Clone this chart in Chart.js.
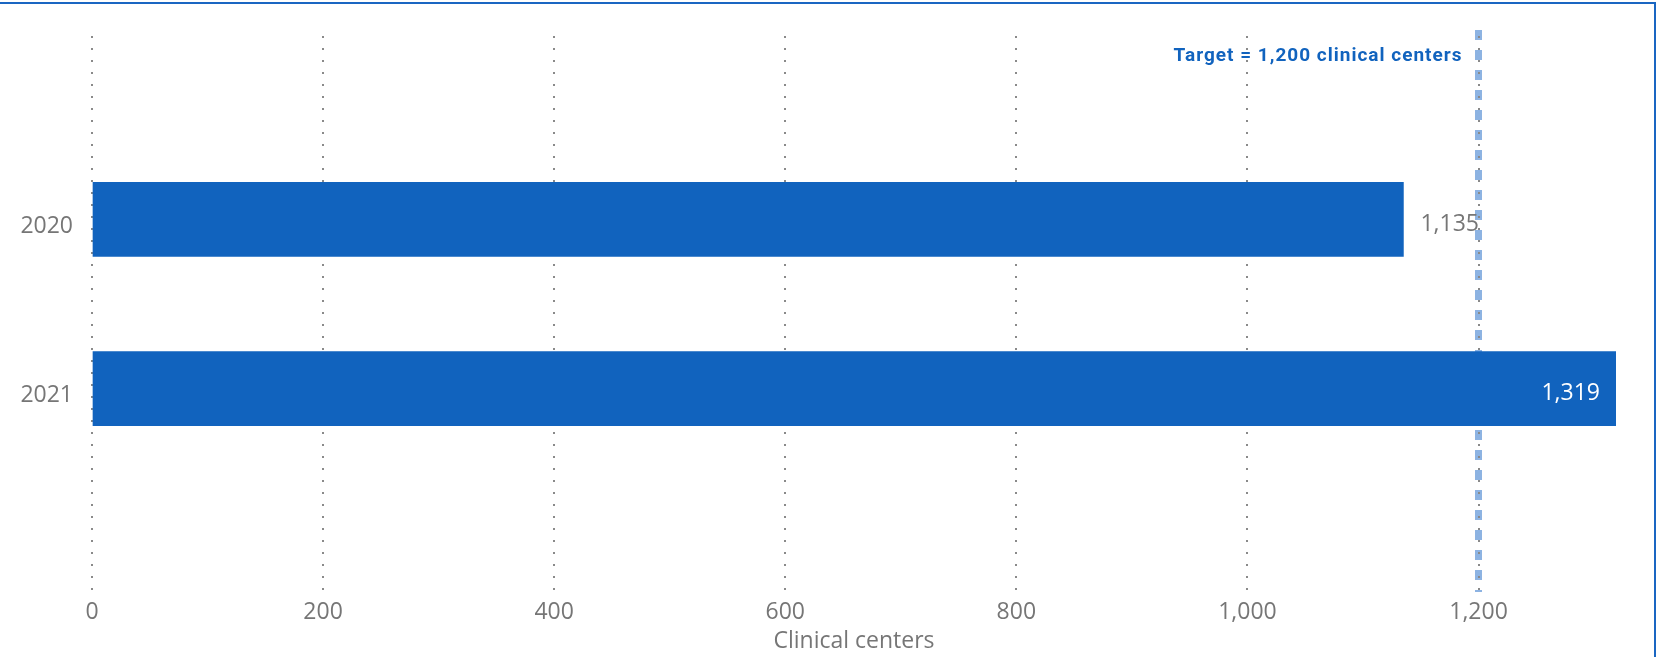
<!DOCTYPE html>
<html>
<head>
<meta charset="utf-8">
<script src="https://cdn.jsdelivr.net/npm/chart.js@4"></script>
<style>
  html, body { margin: 0; padding: 0; background: #fff; overflow: hidden; }
  #wrap { position: relative; width: 1657px; height: 657px; }
  #frame {
    position: absolute; top: 2px; left: -10px; right: 1px; height: 700px;
    border: 2px solid #1a66c2; box-sizing: border-box;
  }
  #chart { position: absolute; left: 0; top: 0; }
</style>
</head>
<body>
<div id="wrap">
  <div id="frame"></div>
  <canvas id="chart" width="1657" height="657"></canvas>
</div>
<script>
// anos e quantidade de centros clínicos
const years = ['2020', '2021'];
const centers = [1135, 1319];
const target = 1200;
const targetLabel = 'Target = 1,200 clinical centers';
const xTitle = 'Clinical centers';

const blue = '#1163be';
const gray = '#767676';
const fontFamily = '"Open Sans", "Noto Sans", sans-serif';

// linha tracejada da meta (desenhada antes da grade e das barras)
const targetLine = {
    id: 'targetLine',
    beforeDraw(chart) {
        const ctx = chart.ctx;
        const x = chart.scales.x.getPixelForValue(target);
        ctx.save();
        ctx.strokeStyle = '#8db3e2';
        ctx.lineWidth = 7;
        ctx.setLineDash([10, 10]);
        ctx.beginPath();
        ctx.moveTo(x, chart.chartArea.top - 6);
        ctx.lineTo(x, chart.chartArea.bottom);
        ctx.stroke();
        ctx.restore();
    },
    afterDraw(chart) {
        const ctx = chart.ctx;
        const x = chart.scales.x.getPixelForValue(target);
        ctx.save();
        ctx.font = 'bold 19px Roboto, sans-serif';
        if ('letterSpacing' in ctx) ctx.letterSpacing = '1px';
        ctx.fillStyle = blue;
        ctx.textAlign = 'right';
        ctx.textBaseline = 'middle';
        ctx.fillText(targetLabel, x - 16, chart.chartArea.top + 20);
        ctx.restore();
    }
};

// rótulos de valor: fora da barra se couber, senão dentro
const barLabels = {
    id: 'barLabels',
    afterDatasetsDraw(chart) {
        const ctx = chart.ctx;
        const meta = chart.getDatasetMeta(0);
        ctx.save();
        ctx.font = '23px ' + fontFamily;
        ctx.textBaseline = 'middle';
        meta.data.forEach((bar, i) => {
            const txt = centers[i].toLocaleString('en-US');
            const w = ctx.measureText(txt).width;
            if (bar.x + 17 + w <= chart.chartArea.right) {
                ctx.fillStyle = gray;
                ctx.textAlign = 'left';
                ctx.fillText(txt, bar.x + 17, bar.y + 5);
            } else {
                ctx.fillStyle = '#ffffff';
                ctx.textAlign = 'right';
                ctx.fillText(txt, bar.x - 16, bar.y + 5);
            }
        });
        ctx.restore();
    }
};

const ctx = document.getElementById('chart').getContext('2d');

const chart = new Chart(ctx, {
    type: 'bar',
    data: {
        datasets: [{
            data: centers.map((v, i) => ({ x: v, y: i })),
            backgroundColor: blue,
            borderWidth: 0,
            barThickness: 74
        }]
    },
    plugins: [targetLine, barLabels],
    options: {
        indexAxis: 'y',
        responsive: false,
        animation: false,
        locale: 'en-US',
        layout: { padding: { top: 36, right: 41, left: 0, bottom: 0 } },
        plugins: {
            legend: { display: false },
            tooltip: { enabled: false }
        },
        scales: {
            x: {
                type: 'linear',
                min: 0,
                max: Math.max(...centers),
                afterFit(scale) { scale.height = 65; },
                grid: {
                    color: '#8a8a8a',
                    lineWidth: 2,
                    drawTicks: false
                },
                border: { display: false, dash: [2, 10] },
                ticks: {
                    stepSize: 200,
                    includeBounds: false,
                    padding: 7,
                    color: gray,
                    font: { family: fontFamily, size: 23 }
                },
                title: {
                    display: true,
                    text: xTitle,
                    color: gray,
                    font: { family: fontFamily, size: 23 },
                    padding: { top: 0, bottom: 2 }
                }
            },
            y: {
                // eixo numérico para posicionar as barras com folga acima e abaixo
                type: 'linear',
                offset: false,
                reverse: true,
                min: -1.083,
                max: 2.201,
                afterFit(scale) { scale.width = 92; },
                afterBuildTicks(scale) {
                    scale.ticks = years.map((_, i) => ({ value: i }));
                },
                grid: { display: false, offset: false },
                border: { display: false },
                ticks: {
                    padding: 11,
                    labelOffset: 7,
                    color: gray,
                    font: { family: fontFamily, size: 23 },
                    callback: (v) => years[v]
                }
            }
        }
    }
});
</script>
</body>
</html>
